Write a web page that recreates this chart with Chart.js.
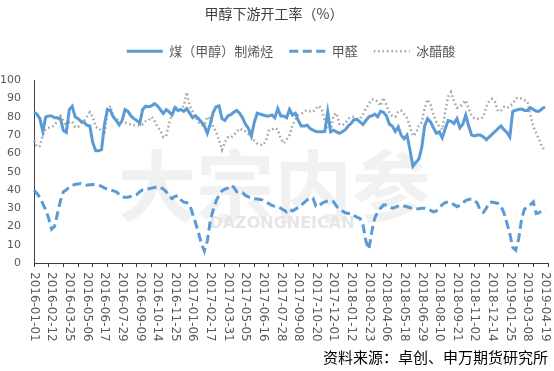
<!DOCTYPE html>
<html>
<head>
<meta charset="utf-8">
<script src="https://cdn.jsdelivr.net/npm/chart.js@4"></script>
<style>
  html, body { margin: 0; padding: 0; background: #fff; }
  canvas { display: block; }
</style>
</head>
<body>
<canvas id="myChart" width="554" height="371"></canvas>
<script>
// tick labels shown on the x axis, one every 6 weeks
const tickLabels = ['2016-01-01', '2016-02-12', '2016-03-25', '2016-05-06', '2016-06-17', '2016-07-29',
    '2016-09-09', '2016-10-14', '2016-11-25', '2017-01-06', '2017-02-17', '2017-03-31', '2017-05-05',
    '2017-06-16', '2017-07-28', '2017-09-08', '2017-10-20', '2017-12-01', '2018-01-12', '2018-02-23',
    '2018-04-06', '2018-05-18', '2018-06-29', '2018-08-10', '2018-09-21', '2018-11-02', '2018-12-14',
    '2019-01-25', '2019-03-08', '2019-04-19'];

const olefin = [
    82.5, 81.5, 79, 72, 80, 80.5, 80.5, 79.5, 79.5, 79,
    72.5, 71.5, 84, 85.8, 80, 79, 77.5, 77, 75.5, 75,
    66, 61.5, 61.5, 62, 76, 84, 83.5, 80, 78, 75.5,
    78, 84, 83, 80.5, 79, 78, 76.5, 84, 85.8, 85.5,
    86, 87.2, 86, 84, 81.8, 84, 82.7, 81, 85, 83.5,
    84, 83, 84.5, 82, 79.5, 80.5, 79, 77.2, 75, 71,
    76, 82.5, 85.5, 86, 79, 78, 80.5, 81.2, 82.5, 83.5,
    82, 79.5, 76, 73.6, 69.5, 77, 82, 81.5, 81, 80.5,
    80.5, 81, 79.5, 84.5, 80.5, 80.5, 79.5, 84, 81, 82,
    78, 75, 75, 75.4, 73.6, 72.7, 72, 71.8, 71.8, 72,
    82.7, 71.8, 72.7, 71.8, 71, 71.8, 73, 75, 76.5, 78.5,
    78.5, 77.2, 75.8, 78, 80, 80.5, 81.5, 80, 83, 82.5,
    80.5, 76, 75, 72, 74.5, 70, 68, 70, 62, 53,
    55, 56.8, 63, 75, 79, 77.2, 74, 71, 71.8, 68.5,
    73.5, 78, 77.5, 76.3, 79, 74, 76, 81, 75, 70,
    69.5, 70, 70, 69, 67.5, 69, 70.5, 72, 73.6, 75,
    73, 71.5, 69, 83, 83.6, 84, 84.3, 83.5, 83.5, 85,
    84, 83, 83, 84.5, 85.4];

const formaldehyde = [
    39.9, 38, 36, 32.5, 29, 24.5, 18.5, 20, 27, 34,
    39, 40, 41.5, 42.5, 43, 43.3, 43.5, 43, 42.6, 42.8,
    43, 42.8, 42.6, 42, 41, 40.5, 40, 39.5, 39, 37.5,
    36.2, 36, 36, 36.5, 37, 37.5, 39, 40, 40.3, 40.6,
    41, 41.3, 41.7, 41.5, 40.5, 39, 36.5, 35.3, 36.5, 36.8,
    34.5, 33.3, 33, 32, 27, 22, 16.5, 10.7, 6.5, 12,
    23, 29, 34, 37, 39.5, 40.4, 41, 42.5, 41.5, 39,
    38.5, 38.5, 37, 36.2, 35.5, 35.2, 35, 34.8, 34.4, 33.5,
    32.5, 31.5, 31, 30.8, 30, 29, 28, 29.5, 28.5, 29.5,
    30.5, 31.7, 33, 34.5, 35.5, 35.5, 31, 31, 32.6, 33.5,
    33.9, 33.9, 33.5, 31, 29.5, 28.5, 27.5, 27.1, 27.1, 26,
    25, 24.4, 21, 12, 7.5, 17, 24.5, 28, 30, 31.7,
    31.7, 31, 30, 30.5, 31.2, 31.7, 31.2, 30.8, 30.2, 29.8,
    29.5, 29.7, 29.9, 29.9, 29.5, 28.8, 28, 28.5, 30, 32,
    33, 33.5, 32.8, 32, 30.8, 31.5, 33, 34.2, 34.8, 35,
    34.4, 32.5, 28.5, 27.7, 30, 33, 33.4, 33, 32.6, 31,
    27.5, 22, 16, 8.5, 7, 13, 24, 29.5, 31, 32,
    33.5, 27, 27.5, 29, 29.5];

const aceticAcid = [
    67, 63.6, 64, 70, 73.5, 74, 74.5, 75.3, 78, 80.5,
    78, 74.5, 77, 77.6, 74.5, 74.5, 76.5, 77.5, 80, 82.5,
    80, 74.5, 74, 72, 70.3, 82.7, 86, 80, 78.5, 78,
    77.5, 77, 76.3, 75.8, 75.4, 75.6, 75, 76, 77.5, 78,
    80, 78, 74.5, 72.5, 69, 69.5, 76.3, 81.8, 85.4, 84.5,
    84, 86, 93.5, 86, 83, 80, 77, 75.4, 75.4, 80,
    79, 74.5, 72, 67, 62, 66, 68.8, 68.5, 70, 71.8,
    73.6, 72.7, 72, 70.5, 70, 67, 65.4, 64.8, 64.5, 67,
    72.5, 73, 74, 73, 68, 65.5, 67.5, 70, 75.4, 78.5,
    81, 81.6, 83, 83.6, 83, 82.7, 84.5, 86, 84, 78,
    73.6, 72.5, 81, 82, 76, 75.4, 76.5, 79, 80, 80,
    79, 79, 81.5, 84.5, 87, 89.5, 89.5, 88.4, 86, 90.5,
    86.5, 82, 80.5, 80, 82.7, 83.5, 81.5, 79.5, 74.5, 69.5,
    71, 75, 77, 84.5, 89.5, 86.5, 81, 77.2, 74.5, 73,
    83, 91, 93.5, 88.5, 85, 85.4, 87.2, 89, 84.5, 80.5,
    79, 79, 79, 80, 85.5, 88.8, 89.8, 88, 83, 83.5,
    85.4, 84.7, 86, 87, 90, 90.5, 90, 89.2, 88.5, 81,
    75, 71, 67.5, 63.5, 61.7];

// weekly categories, counted on from each tick label
const TICK_EVERY = 6;
const N_CATS = 176;
const categories = [];
for (let i = 0; i < N_CATS; i++) {
    const k = Math.min(Math.floor(i / TICK_EVERY), tickLabels.length - 1);
    const d = new Date(tickLabels[k] + 'T00:00:00Z');
    d.setUTCDate(d.getUTCDate() + 7 * (i - k * TICK_EVERY));
    categories.push(d.toISOString().slice(0, 10));
}

const blue = '#5B9BD5';
const gray = '#A5A5A5';
const axisColor = '#404040';
const tickFont = 'DejaVu Sans';
const cjkFont = '"Noto Sans CJK SC", sans-serif';

Chart.defaults.font.family = cjkFont;

// faint publisher watermark behind the lines
const watermark = {
    id: 'watermark',
    beforeDatasetsDraw(chart) {
        const c = chart.ctx;
        c.save();
        c.fillStyle = '#f1f1f1';
        c.textAlign = 'center';
        c.textBaseline = 'middle';
        c.font = 'bold 78px ' + cjkFont;
        c.fillText('大宗内参', 274, 186);
        c.font = 'bold 16px ' + tickFont;
        c.fillStyle = '#e6e6e6';
        c.fillText('DAZONGNEICAN', 282, 224);
        c.restore();
    }
};

// x labels read top to bottom, plus the source note
const xLabels = {
    id: 'xLabels',
    afterDraw(chart) {
        const c = chart.ctx;
        const xs = chart.scales.x;
        c.save();
        c.fillStyle = '#595959';
        c.font = '12px ' + tickFont;
        c.textAlign = 'left';
        c.textBaseline = 'middle';
        tickLabels.forEach((lab, k) => {
            const x = xs.getPixelForValue(k * TICK_EVERY);
            c.save();
            c.translate(x, xs.top + 9);
            c.rotate(Math.PI / 2);
            c.fillText(lab, 0, 0);
            c.restore();
        });
        c.fillStyle = '#000';
        c.font = '15px ' + cjkFont;
        c.textAlign = 'right';
        c.fillText('资料来源：卓创、申万期货研究所', 548, 357);
        c.restore();
    }
};

// legend samples take dash and width from the line, not the point
function legendItems(chart) {
    const items = Chart.defaults.plugins.legend.labels.generateLabels(chart);
    items.forEach(item => {
        const ds = chart.data.datasets[item.datasetIndex];
        item.lineDash = ds.borderDash || [];
        item.lineWidth = ds.borderWidth;
        item.strokeStyle = ds.borderColor;
        item.pointStyle = 'line';
    });
    return items;
}

const data = {
    labels: categories,
    datasets: [{
        label: '煤（甲醇）制烯烃',
        data: olefin,
        borderColor: blue,
        borderWidth: 3,
        pointRadius: 0,
        tension: 0
    }, {
        label: '甲醛',
        data: formaldehyde,
        borderColor: blue,
        borderWidth: 3,
        borderDash: [9, 4.5],
        pointRadius: 0,
        tension: 0
    }, {
        label: '冰醋酸',
        data: aceticAcid,
        borderColor: gray,
        borderWidth: 2.5,
        borderDash: [1.6, 2.8],
        pointRadius: 0,
        tension: 0
    }]
};

const config = {
    type: 'line',
    data: data,
    plugins: [watermark, xLabels],
    options: {
        responsive: false,
        animation: false,
        layout: { padding: { left: 0, right: 6, top: 0, bottom: 0 } },
        plugins: {
            title: {
                display: true,
                text: '甲醇下游开工率（%）',
                color: '#404040',
                font: { size: 14, weight: 'normal', family: cjkFont },
                padding: { top: 5, bottom: 7 }
            },
            legend: {
                fullSize: false,
                labels: {
                    usePointStyle: true,
                    pointStyle: 'line',
                    pointStyleWidth: 36,
                    padding: 16,
                    color: '#595959',
                    font: { size: 13, family: cjkFont },
                    generateLabels: legendItems
                }
            },
            tooltip: { enabled: false }
        },
        scales: {
            x: {
                type: 'category',
                offset: false,
                grid: {
                    drawOnChartArea: false,
                    tickLength: 4,
                    color: ctx => (ctx.index % 5 === 0 ? axisColor : 'rgba(0,0,0,0)')
                },
                border: { display: true, color: axisColor, width: 1 },
                ticks: { display: false, autoSkip: false },
                afterFit: s => { s.height = 108; }
            },
            top: {
                type: 'category',
                position: 'top',
                display: true,
                grid: { display: false },
                border: { display: false },
                ticks: { display: false },
                afterFit: s => { s.height = 12.5; }
            },
            y: {
                min: 0,
                max: 100,
                grid: { display: false, drawTicks: false },
                border: { display: true, color: axisColor, width: 1 },
                ticks: {
                    stepSize: 10,
                    padding: 13,
                    color: '#595959',
                    font: { size: 11, family: tickFont }
                },
                afterFit: s => { s.width = 34; }
            }
        }
    }
};

new Chart(document.getElementById('myChart'), config);
</script>
</body>
</html>
